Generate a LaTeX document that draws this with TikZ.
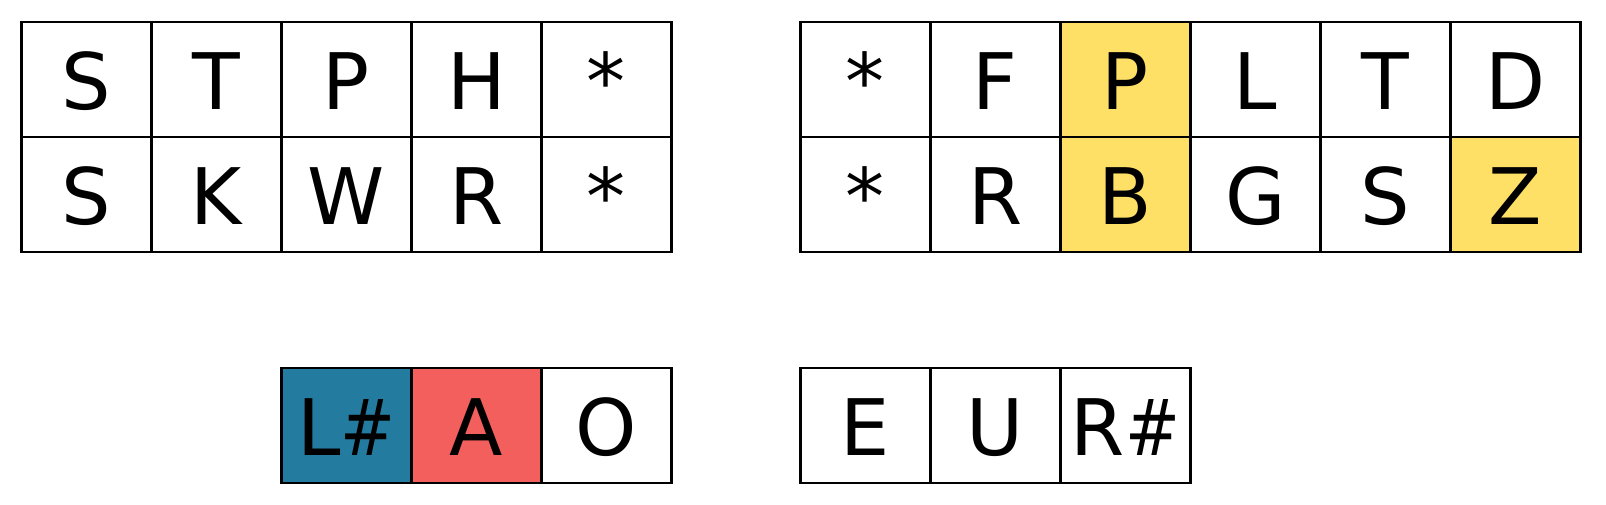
\documentclass[tikz,border=0pt]{standalone}
\usepackage{fontspec}
\usepackage{graphicx}
\setmainfont{DejaVu Sans}
\definecolor{cblue}{HTML}{247BA0}
\definecolor{cred}{HTML}{F25F5C}
\definecolor{cyel}{HTML}{FFE066}
\newcommand{\shp}{\scalebox{0.84}[1]{\#}}
\tikzset{
  cell/.style={draw=black, line width=2.8pt, rectangle, inner sep=0pt,
    minimum width=130pt, minimum height=115pt, text height=61pt, text depth=0pt,
    font=\fontsize{78}{78}\selectfont, anchor=north west},
}
\begin{document}
\begin{tikzpicture}[x=1pt,y=-1pt]
\useasboundingbox (0,0) rectangle (1606,504);
% left block
\foreach \l [count=\i from 0] in {S,T,P,H,*}
  \node[cell] (la\i) at (20+130*\i,20.5) {\l};
\foreach \l [count=\i from 0] in {S,K,W,R,*}
  \node[cell] (lb\i) at (20+130*\i,135.5) {\l};
% right block
\foreach \l/\c [count=\i from 0] in {*/white,F/white,P/cyel,L/white,T/white,D/white}
  \node[cell, fill=\c] (ra\i) at (799+130*\i,20.5) {\l};
\foreach \l/\c [count=\i from 0] in {*/white,R/white,B/cyel,G/white,S/white,Z/cyel}
  \node[cell, fill=\c] (rb\i) at (799+130*\i,135.5) {\l};
% bottom left
\node[cell, fill=cblue] (bl0) at (280,366.5) {L\shp};
\node[cell, fill=cred] (bl1) at (410,366.5) {A};
\node[cell, fill=white] (bl2) at (540,366.5) {O};
% bottom right
\node[cell] (br0) at (799,366.5) {E};
\node[cell] (br1) at (929,366.5) {U};
\node[cell] (br2) at (1059,366.5) {R\shp};
\end{tikzpicture}
\end{document}
